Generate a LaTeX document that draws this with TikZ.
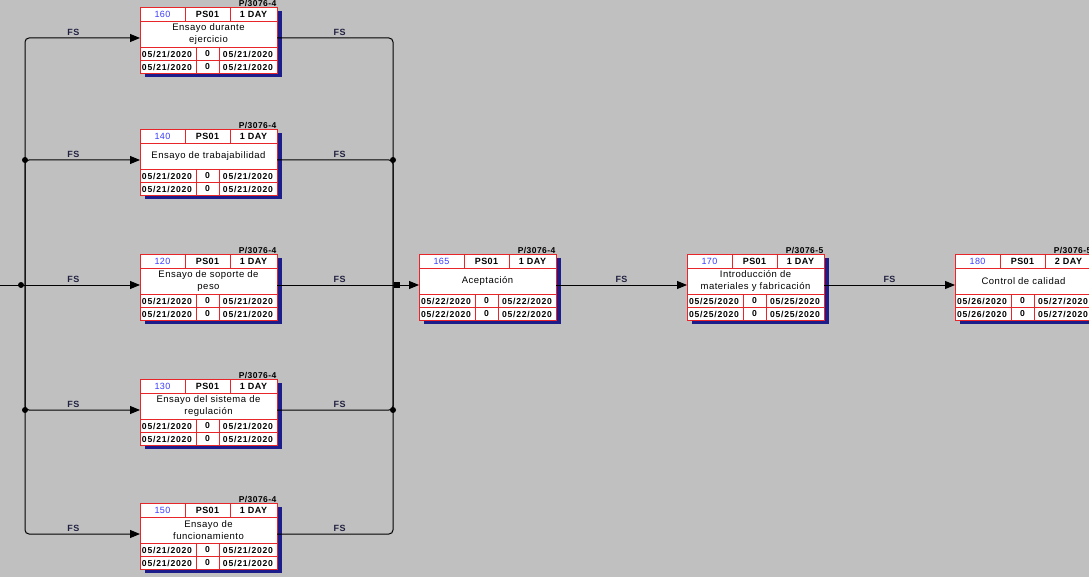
\documentclass[tikz,border=0pt]{standalone}
\usepackage{fontspec}
\setmainfont{Liberation Sans}
\newfontfamily\dfont[LetterSpace=5]{Liberation Sans}
\newfontfamily\datefont[LetterSpace=9]{Liberation Sans}
\usetikzlibrary{arrows.meta}
\definecolor{bgc}{HTML}{C0C0C0}
\definecolor{cellred}{HTML}{E8262A}
\definecolor{shadowc}{HTML}{1C1C8A}
\definecolor{numblue}{HTML}{3C3CFF}
\definecolor{fsc}{HTML}{202040}
\tikzset{
  boxshape/.style={draw=cellred, line width=0.9pt, fill=white, rectangle, minimum width=137pt, minimum height=66pt, inner sep=0pt, anchor=north west},
  cell/.style={draw=cellred, line width=0.9pt},
  numtxt/.style={inner sep=0pt, text=numblue, font=\dfont\fontsize{9}{10}\selectfont},
  toptxt/.style={inner sep=0pt, font=\dfont\bfseries\fontsize{9}{10}\selectfont},
  desctxt/.style={inner sep=0pt, align=center, font=\dfont\fontsize{9.5}{12.5}\selectfont},
  datetxt/.style={inner sep=0pt, font=\datefont\bfseries\fontsize{8.6}{9}\selectfont},
  lbltxt/.style={inner sep=0.5pt, anchor=south east, font=\dfont\bfseries\fontsize{8.5}{9}\selectfont},
  conn/.style={draw=black, line width=1pt},
  arr/.style={conn, -{Triangle[length=10pt,width=8pt]}},
  fs/.style={above, inner sep=2pt, text=fsc, font=\dfont\bfseries\fontsize{9}{10}\selectfont},
  jdot/.style={circle, fill=black, inner sep=0pt, minimum size=6pt},
  jsq/.style={rectangle, fill=black, inner sep=0pt, minimum size=6pt},
}
\newcommand\actbox[9]{%
  \fill[shadowc] (#2+5,#3+4) rectangle (#2+142,#3+70);
  \node[boxshape] (#1) at (#2,#3) {};
  \draw[cell] (#2,#3+14) -- (#2+137,#3+14);
  \draw[cell] (#2,#3+40) -- (#2+137,#3+40);
  \draw[cell] (#2,#3+53) -- (#2+137,#3+53);
  \draw[cell] (#2+45,#3) -- (#2+45,#3+14);
  \draw[cell] (#2+90,#3) -- (#2+90,#3+14);
  \draw[cell] (#2+56,#3+40) -- (#2+56,#3+66);
  \draw[cell] (#2+79,#3+40) -- (#2+79,#3+66);
  \node[numtxt] (#1-n) at (#2+22.5,#3+7.5) {#4};
  \node[toptxt] (#1-p) at (#2+67.5,#3+7.5) {PS01};
  \node[toptxt] (#1-d) at (#2+113.5,#3+7.5) {#5};
  \node[desctxt] (#1-t) at (#2+68.5,#3+27) {#6};
  \node[datetxt] (#1-s1) at (#2+27,#3+47) {#7};
  \node[datetxt] (#1-z1) at (#2+67.5,#3+47) {0};
  \node[datetxt] (#1-f1) at (#2+108,#3+47) {#8};
  \node[datetxt] (#1-s2) at (#2+27,#3+60) {#7};
  \node[datetxt] (#1-z2) at (#2+67.5,#3+60) {0};
  \node[datetxt] (#1-f2) at (#2+108,#3+60) {#8};
  \node[lbltxt] (#1-l) at (#2+137,#3) {#9};
  \coordinate (#1-in) at (#2,#3+31);
  \coordinate (#1-out) at (#2+137,#3+31);
}
\begin{document}
\begin{tikzpicture}[x=1pt,y=-1pt]
\useasboundingbox (0,0) rectangle (1089,577);
\clip (0,0) rectangle (1089,577);
\fill[bgc] (0,0) rectangle (1089,577);

\actbox{b160}{140}{7}{160}{1 DAY}{Ensayo durante\\ejercicio}{05/21/2020}{05/21/2020}{P/3076-4}
\actbox{b140}{140}{129}{140}{1 DAY}{Ensayo de trabajabilidad}{05/21/2020}{05/21/2020}{P/3076-4}
\actbox{b120}{140}{254}{120}{1 DAY}{Ensayo de soporte de\\peso}{05/21/2020}{05/21/2020}{P/3076-4}
\actbox{b130}{140}{379}{130}{1 DAY}{Ensayo del sistema de\\regulación}{05/21/2020}{05/21/2020}{P/3076-4}
\actbox{b150}{140}{503}{150}{1 DAY}{Ensayo de\\funcionamiento}{05/21/2020}{05/21/2020}{P/3076-4}
\actbox{b165}{419}{254}{165}{1 DAY}{Aceptación}{05/22/2020}{05/22/2020}{P/3076-4}
\actbox{b170}{687}{254}{170}{1 DAY}{Introducción de\\materiales y fabricación}{05/25/2020}{05/25/2020}{P/3076-5}
\actbox{b180}{955}{254}{180}{2 DAY}{Control de calidad}{05/26/2020}{05/27/2020}{P/3076-5}

\coordinate (src) at (0,285);
\coordinate (jL) at (25,285);
\coordinate (jR) at (393,285);

\draw[conn] (src) -- (jL);
\draw[arr, rounded corners=4pt] (jL) |- (b160-in) node[fs, pos=0.71] (fs1) {FS};
\draw[arr, rounded corners=4pt] (jL) |- (b140-in) node[fs, pos=0.71] (fs2) {FS};
\draw[arr] (jL) -- (b120-in) node[fs, pos=0.42] (fs3) {FS};
\draw[arr, rounded corners=4pt] (jL) |- (b130-in) node[fs, pos=0.71] (fs4) {FS};
\draw[arr, rounded corners=4pt] (jL) |- (b150-in) node[fs, pos=0.71] (fs5) {FS};

\draw[conn, rounded corners=4pt] (b160-out) -| (jR) node[fs, pos=0.27] (fs6) {FS};
\draw[conn, rounded corners=4pt] (b140-out) -| (jR) node[fs, pos=0.27] (fs7) {FS};
\draw[conn] (b120-out) -- (jR) node[fs, pos=0.54] (fs8) {FS};
\draw[conn, rounded corners=4pt] (b130-out) -| (jR) node[fs, pos=0.27] (fs9) {FS};
\draw[conn, rounded corners=4pt] (b150-out) -| (jR) node[fs, pos=0.27] (fs10) {FS};
\draw[arr] (jR) -- (b165-in);

\draw[arr] (b165-out) -- (b170-in) node[fs, pos=0.5] (fs11) {FS};
\draw[arr] (b170-out) -- (b180-in) node[fs, pos=0.5] (fs12) {FS};

\node[jdot] (d1) at (25,160) {};
\node[jdot] (d2) at (21,285) {};
\node[jdot] (d3) at (25,410) {};
\node[jdot] (d4) at (393,160) {};
\node[jsq] (d5) at (397,285) {};
\node[jdot] (d6) at (393,410) {};
\end{tikzpicture}
\end{document}
